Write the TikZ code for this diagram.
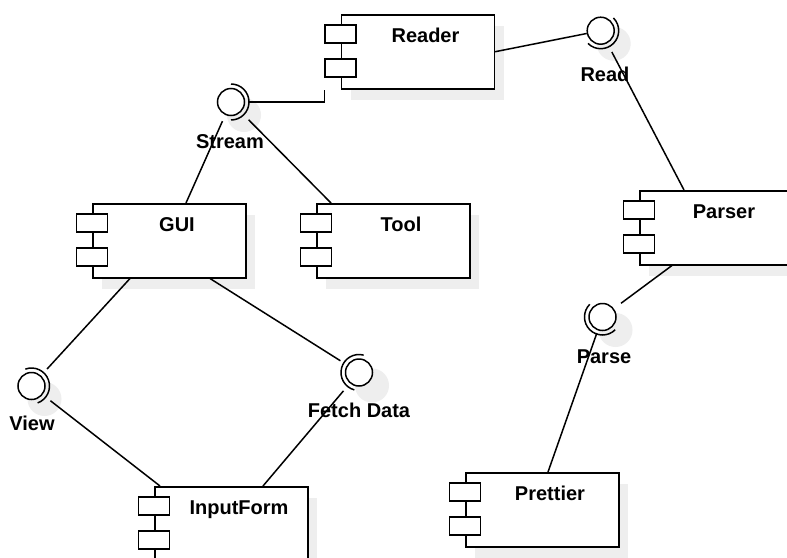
\documentclass[tikz,border=0pt]{standalone}
\usepackage{fontspec}
\setmainfont{Liberation Sans}
\usetikzlibrary{calc}
\definecolor{shadowgray}{HTML}{EEEEEE}

\tikzset{
  conn/.style={line width=1.5pt},
  compbox/.style={draw, line width=1.5pt, fill=white, minimum width=153pt,
    minimum height=74pt, inner sep=0pt, anchor=north west},
  portbox/.style={draw, line width=1.5pt, fill=white, minimum width=31pt,
    minimum height=18pt, inner sep=0pt},
  ttl/.style={font=\bfseries\fontsize{20}{24}\selectfont, inner sep=0pt, anchor=base},
  ball/.style={draw, circle, line width=1.5pt, fill=white, minimum size=27pt, inner sep=0pt},
  shade/.style={fill=shadowgray, draw=none}
}

% component: name, left x, top y, title
\newcommand{\umlcomp}[4]{%
  \fill[shade] (#2+10,#3+12) rectangle (#2+163,#3+86);
  \node[compbox] (#1) at (#2,#3) {};
  \node[portbox] (#1-pa) at ($(#1.north west)+(0,20)$) {};
  \node[portbox] (#1-pb) at ($(#1.north west)+(0,54)$) {};
  \node[ttl] (#1-t) at ($(#1.north west)+(85,28.5)$) {#4};
}

% provided/required interface: name, x, y, socket direction, label, label x, label y
\newcommand{\umliface}[7]{%
  \fill[shade] (#2+13,#3+13) circle (17pt);
  \node[ball] (#1) at (#2,#3) {};
  \draw[conn] ($(#1)+(#4-90:18pt)$) arc[start angle=#4-90, end angle=#4+90, radius=18pt];
  \node[ttl] (#1-t) at (#6,#7+7.2) {#5};
}

\begin{document}
\begin{tikzpicture}[x=1pt, y=-1pt]
  \fill[white] (0,0) rectangle (787,557);
  \useasboundingbox (0,0) rectangle (787,557);

  % components
  \umlcomp{reader}{340.5}{14}{Reader}
  \umlcomp{gui}{92}{203}{GUI}
  \umlcomp{tool}{316}{203}{Tool}
  \umlcomp{parser}{639}{190}{Parser}
  \umlcomp{inputform}{154}{486}{InputForm}
  \umlcomp{prettier}{465}{472}{Prettier}

  % interfaces
  \umliface{read}{600.7}{30.7}{-45}{Read}{605}{74}
  \umliface{stream}{231}{102}{0}{Stream}{230}{141}
  \umliface{view}{31.5}{386}{20}{View}{32}{423}
  \umliface{fetch}{359}{372.5}{165}{Fetch Data}{359}{410}
  \umliface{parse}{602.5}{317}{-135}{Parse}{604}{356}

  % attachment points on the components
  \coordinate (readerfoot) at (reader-pa.west |- reader.south);
  \coordinate (parsertop) at ($(parser.north west)+(45,0)$);
  \coordinate (parserfoot) at ($(parser.south west)+(33,0)$);
  \coordinate (guitop) at ($(gui.north west)+(94,0)$);
  \coordinate (tooltop) at ($(tool.north west)+(15,0)$);
  \coordinate (guifootl) at ($(gui.south west)+(38,0)$);
  \coordinate (guifootr) at ($(gui.south west)+(118,0)$);
  \coordinate (inputtopl) at ($(inputform.north west)+(6,0)$);
  \coordinate (inputtopr) at ($(inputform.north west)+(109,0)$);
  \coordinate (prettiertop) at ($(prettier.north west)+(83,0)$);

  % connectors
  \draw[conn] (reader.east) -- (read);
  \draw[conn] ($(read)!24pt!(parsertop)$) -- (parsertop);
  \draw[conn] ($(stream)+(18pt,0)$) -| (readerfoot);
  \draw[conn] ($(stream)!21pt!(guitop)$) -- (guitop);
  \draw[conn] ($(stream)!25pt!(tooltop)$) -- (tooltop);
  \draw[conn] (guifootl) -- ($(view)!23pt!(guifootl)$);
  \draw[conn] ($(view)!24pt!(inputtopl)$) -- (inputtopl);
  \draw[conn] (guifootr) -- ($(fetch)!22pt!(guifootr)$);
  \draw[conn] ($(fetch)!24pt!(inputtopr)$) -- (inputtopr);
  \draw[conn] (parserfoot) -- ($(parse)!23pt!(parserfoot)$);
  \draw[conn] ($(parse)!17pt!(prettiertop)$) -- (prettiertop);
\end{tikzpicture}
\end{document}
